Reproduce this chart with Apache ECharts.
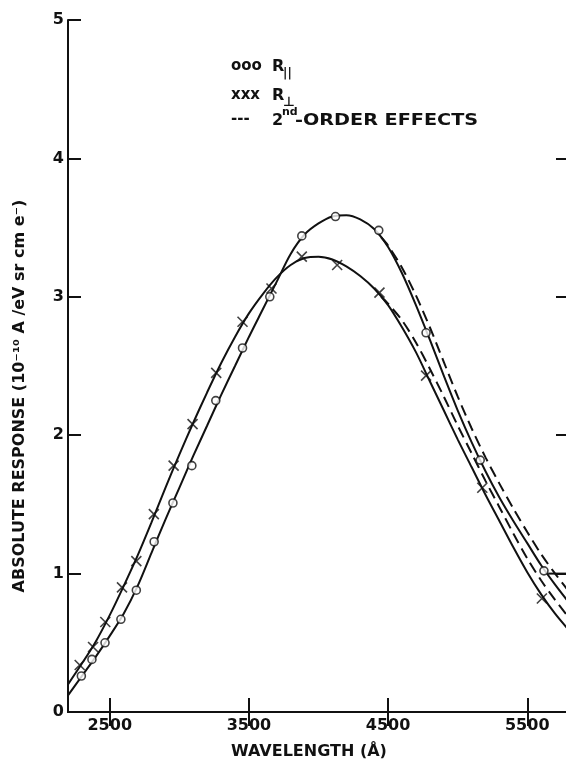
<!DOCTYPE html>
<html>
<head>
<meta charset="utf-8">
<script src="https://cdn.jsdelivr.net/npm/echarts@6/dist/echarts.min.js"></script>
<style>
  html, body { margin: 0; padding: 0; background: #fff; overflow: hidden; }
  #chart { width: 572px; height: 759px; }
</style>
</head>
<body>
<div id="chart"></div>
<script>
// Wavelength ticks (Å) and response ticks
const xTicks = [2500, 3500, 4500, 5500];
const yTicks = [0, 1, 2, 3, 4, 5];
const rightTicks = [1, 2, 3, 4];

// Measured points: R-parallel (circles)
const rParPoints = [
  [2296, 0.26], [2372, 0.38], [2466, 0.50], [2580, 0.67], [2691, 0.88],
  [2819, 1.23], [2954, 1.51], [3090, 1.78], [3262, 2.25], [3454, 2.63],
  [3650, 3.00], [3880, 3.44], [4122, 3.58], [4433, 3.48], [4773, 2.74],
  [5162, 1.82], [5620, 1.02]
];

// Measured points: R-perpendicular (crosses)
const rPerpPoints = [
  [2284, 0.34], [2380, 0.47], [2468, 0.65], [2588, 0.90], [2691, 1.09],
  [2817, 1.43], [2959, 1.78], [3095, 2.08], [3265, 2.45], [3454, 2.82],
  [3662, 3.06], [3880, 3.29], [4134, 3.23], [4438, 3.03], [4773, 2.43],
  [5177, 1.62], [5605, 0.82]
];

// Fitted curve through R-parallel
const rParCurve = [
  [2200, 0.12], [2300, 0.26], [2400, 0.40], [2500, 0.55], [2600, 0.71],
  [2700, 0.91], [2800, 1.15], [2900, 1.39], [3000, 1.62], [3100, 1.85],
  [3200, 2.07], [3300, 2.29], [3400, 2.50], [3500, 2.71], [3600, 2.91],
  [3700, 3.11], [3800, 3.31], [3900, 3.45], [4000, 3.53], [4100, 3.58],
  [4200, 3.59], [4300, 3.56], [4400, 3.49], [4500, 3.36], [4600, 3.17],
  [4700, 2.94], [4800, 2.69], [4900, 2.43], [5000, 2.18], [5100, 1.95],
  [5200, 1.74], [5300, 1.55], [5400, 1.38], [5500, 1.22], [5600, 1.06],
  [5700, 0.92], [5800, 0.79]
];

// Fitted curve through R-perpendicular
const rPerpCurve = [
  [2200, 0.20], [2300, 0.35], [2400, 0.51], [2500, 0.70], [2600, 0.91],
  [2700, 1.13], [2800, 1.37], [2900, 1.62], [3000, 1.86], [3100, 2.09],
  [3200, 2.31], [3300, 2.52], [3400, 2.71], [3500, 2.88], [3600, 3.02],
  [3700, 3.14], [3800, 3.23], [3900, 3.28], [4000, 3.29], [4100, 3.27],
  [4200, 3.22], [4300, 3.15], [4400, 3.06], [4500, 2.94], [4600, 2.78],
  [4700, 2.60], [4800, 2.39], [4900, 2.18], [5000, 1.97], [5100, 1.77],
  [5200, 1.57], [5300, 1.38], [5400, 1.19], [5500, 1.01], [5600, 0.85],
  [5700, 0.71], [5800, 0.59]
];

// Second-order corrected tails
const rParSecond = [
  [4450, 3.43], [4500, 3.37], [4600, 3.21], [4700, 3.01], [4800, 2.78],
  [4900, 2.53], [5000, 2.28], [5100, 2.05], [5200, 1.84], [5300, 1.65],
  [5400, 1.47], [5500, 1.30], [5600, 1.14], [5700, 1.00], [5800, 0.87]
];
const rPerpSecond = [
  [4450, 3.00], [4500, 2.95], [4600, 2.83], [4700, 2.67], [4800, 2.48],
  [4900, 2.28], [5000, 2.07], [5100, 1.87], [5200, 1.67], [5300, 1.48],
  [5400, 1.29], [5500, 1.11], [5600, 0.95], [5700, 0.81], [5800, 0.68]
];

// Short leader from the last R-parallel point
const leader = [[5650, 1.0], [5800, 1.0]];

const FONT = 'DejaVu Sans';
const INK = '#111';

const chart = echarts.init(document.getElementById('chart'), null, { renderer: 'canvas' });

const axisLine = { show: true, lineStyle: { color: INK, width: 2 } };
const tickStyle = { color: INK, width: 2 };

const curve = (data, dashed) => ({
  type: 'line',
  data: data,
  smooth: 0.3,
  showSymbol: false,
  symbol: 'none',
  silent: true,
  lineStyle: { color: INK, width: 2, type: dashed ? [11, 6] : 'solid' },
  z: 2
});

chart.setOption({
  animation: false,
  backgroundColor: '#fff',
  grid: { left: 68, right: 3, top: 20, bottom: 47 },
  xAxis: [
    {
      type: 'value', position: 'bottom', min: 2200, max: 5800,
      axisLine: axisLine,
      axisTick: { show: true, inside: true, length: 14, lineStyle: tickStyle, customValues: xTicks },
      axisLabel: {
        show: true, customValues: xTicks, margin: 6, formatter: (v) => String(v),
        color: INK, fontFamily: FONT, fontWeight: 'bold', fontSize: 16
      },
      splitLine: { show: false }
    },
    {
      type: 'value', position: 'top', min: 2200, max: 5800,
      axisLine: axisLine,
      axisTick: { show: true, inside: true, length: 14, lineStyle: tickStyle, customValues: xTicks },
      axisLabel: { show: false },
      splitLine: { show: false }
    }
  ],
  yAxis: [
    {
      type: 'value', position: 'left', min: 0, max: 5,
      axisLine: axisLine,
      axisTick: { show: true, inside: true, length: 13, lineStyle: tickStyle, customValues: yTicks },
      axisLabel: {
        show: true, customValues: yTicks, margin: 4, formatter: (v) => String(v),
        color: INK, fontFamily: FONT, fontWeight: 'bold', fontSize: 16
      },
      splitLine: { show: false }
    },
    {
      type: 'value', position: 'right', min: 0, max: 5,
      axisLine: axisLine,
      axisTick: { show: true, inside: true, length: 13, lineStyle: tickStyle, customValues: rightTicks },
      axisLabel: { show: false },
      splitLine: { show: false }
    }
  ],
  series: [
    curve(rParCurve, false),
    curve(rPerpCurve, false),
    curve(rParSecond, true),
    curve(rPerpSecond, true),
    curve(leader, false),
    {
      type: 'scatter', data: rParPoints, symbol: 'circle', symbolSize: 8,
      itemStyle: { color: '#fff', borderColor: INK, borderWidth: 1.6 }, z: 5
    },
    {
      type: 'scatter', data: rPerpPoints, symbol: 'path://M0,0L10,10M10,0L0,10', symbolSize: 10,
      itemStyle: { color: INK, borderColor: INK, borderWidth: 1.6 }, z: 5
    }
  ],
  graphic: [
    // legend
    { type: 'text', left: 231, top: 59, style: { text: 'ooo', font: 'bold 15px ' + FONT, fill: INK } },
    { type: 'text', left: 272, top: 59, style: { text: 'R', font: 'bold 16px ' + FONT, fill: INK } },
    { type: 'text', left: 283, top: 68, style: { text: '||', font: 'bold 12px ' + FONT, fill: INK } },
    { type: 'text', left: 231, top: 88, style: { text: 'xxx', font: 'bold 15px ' + FONT, fill: INK } },
    { type: 'text', left: 272, top: 88, style: { text: 'R', font: 'bold 16px ' + FONT, fill: INK } },
    { type: 'text', left: 283, top: 96, style: { text: '⊥', font: 'bold 13px ' + FONT, fill: INK } },
    { type: 'text', left: 231, top: 112, style: { text: '---', font: 'bold 15px ' + FONT, fill: INK } },
    { type: 'text', left: 272, top: 113, style: { text: '2', font: 'bold 16px ' + FONT, fill: INK } },
    { type: 'text', left: 282, top: 107, style: { text: 'nd', font: 'bold 11px ' + FONT, fill: INK } },
    { type: 'text', left: 295, top: 113, scaleX: 1.2, style: { text: '-ORDER EFFECTS', font: 'bold 16px ' + FONT, fill: INK } },
    // axis titles
    {
      type: 'text', x: 309, y: 752,
      style: { text: 'WAVELENGTH (Å)', font: 'bold 16px ' + FONT, fill: INK, align: 'center', verticalAlign: 'middle' }
    },
    {
      type: 'text', x: 20, y: 396, rotation: Math.PI / 2,
      style: {
        text: 'ABSOLUTE RESPONSE (10⁻¹⁰ A /eV sr cm e⁻)',
        font: 'bold 16px ' + FONT, fill: INK, align: 'center', verticalAlign: 'middle'
      }
    }
  ]
});
</script>
</body>
</html>
